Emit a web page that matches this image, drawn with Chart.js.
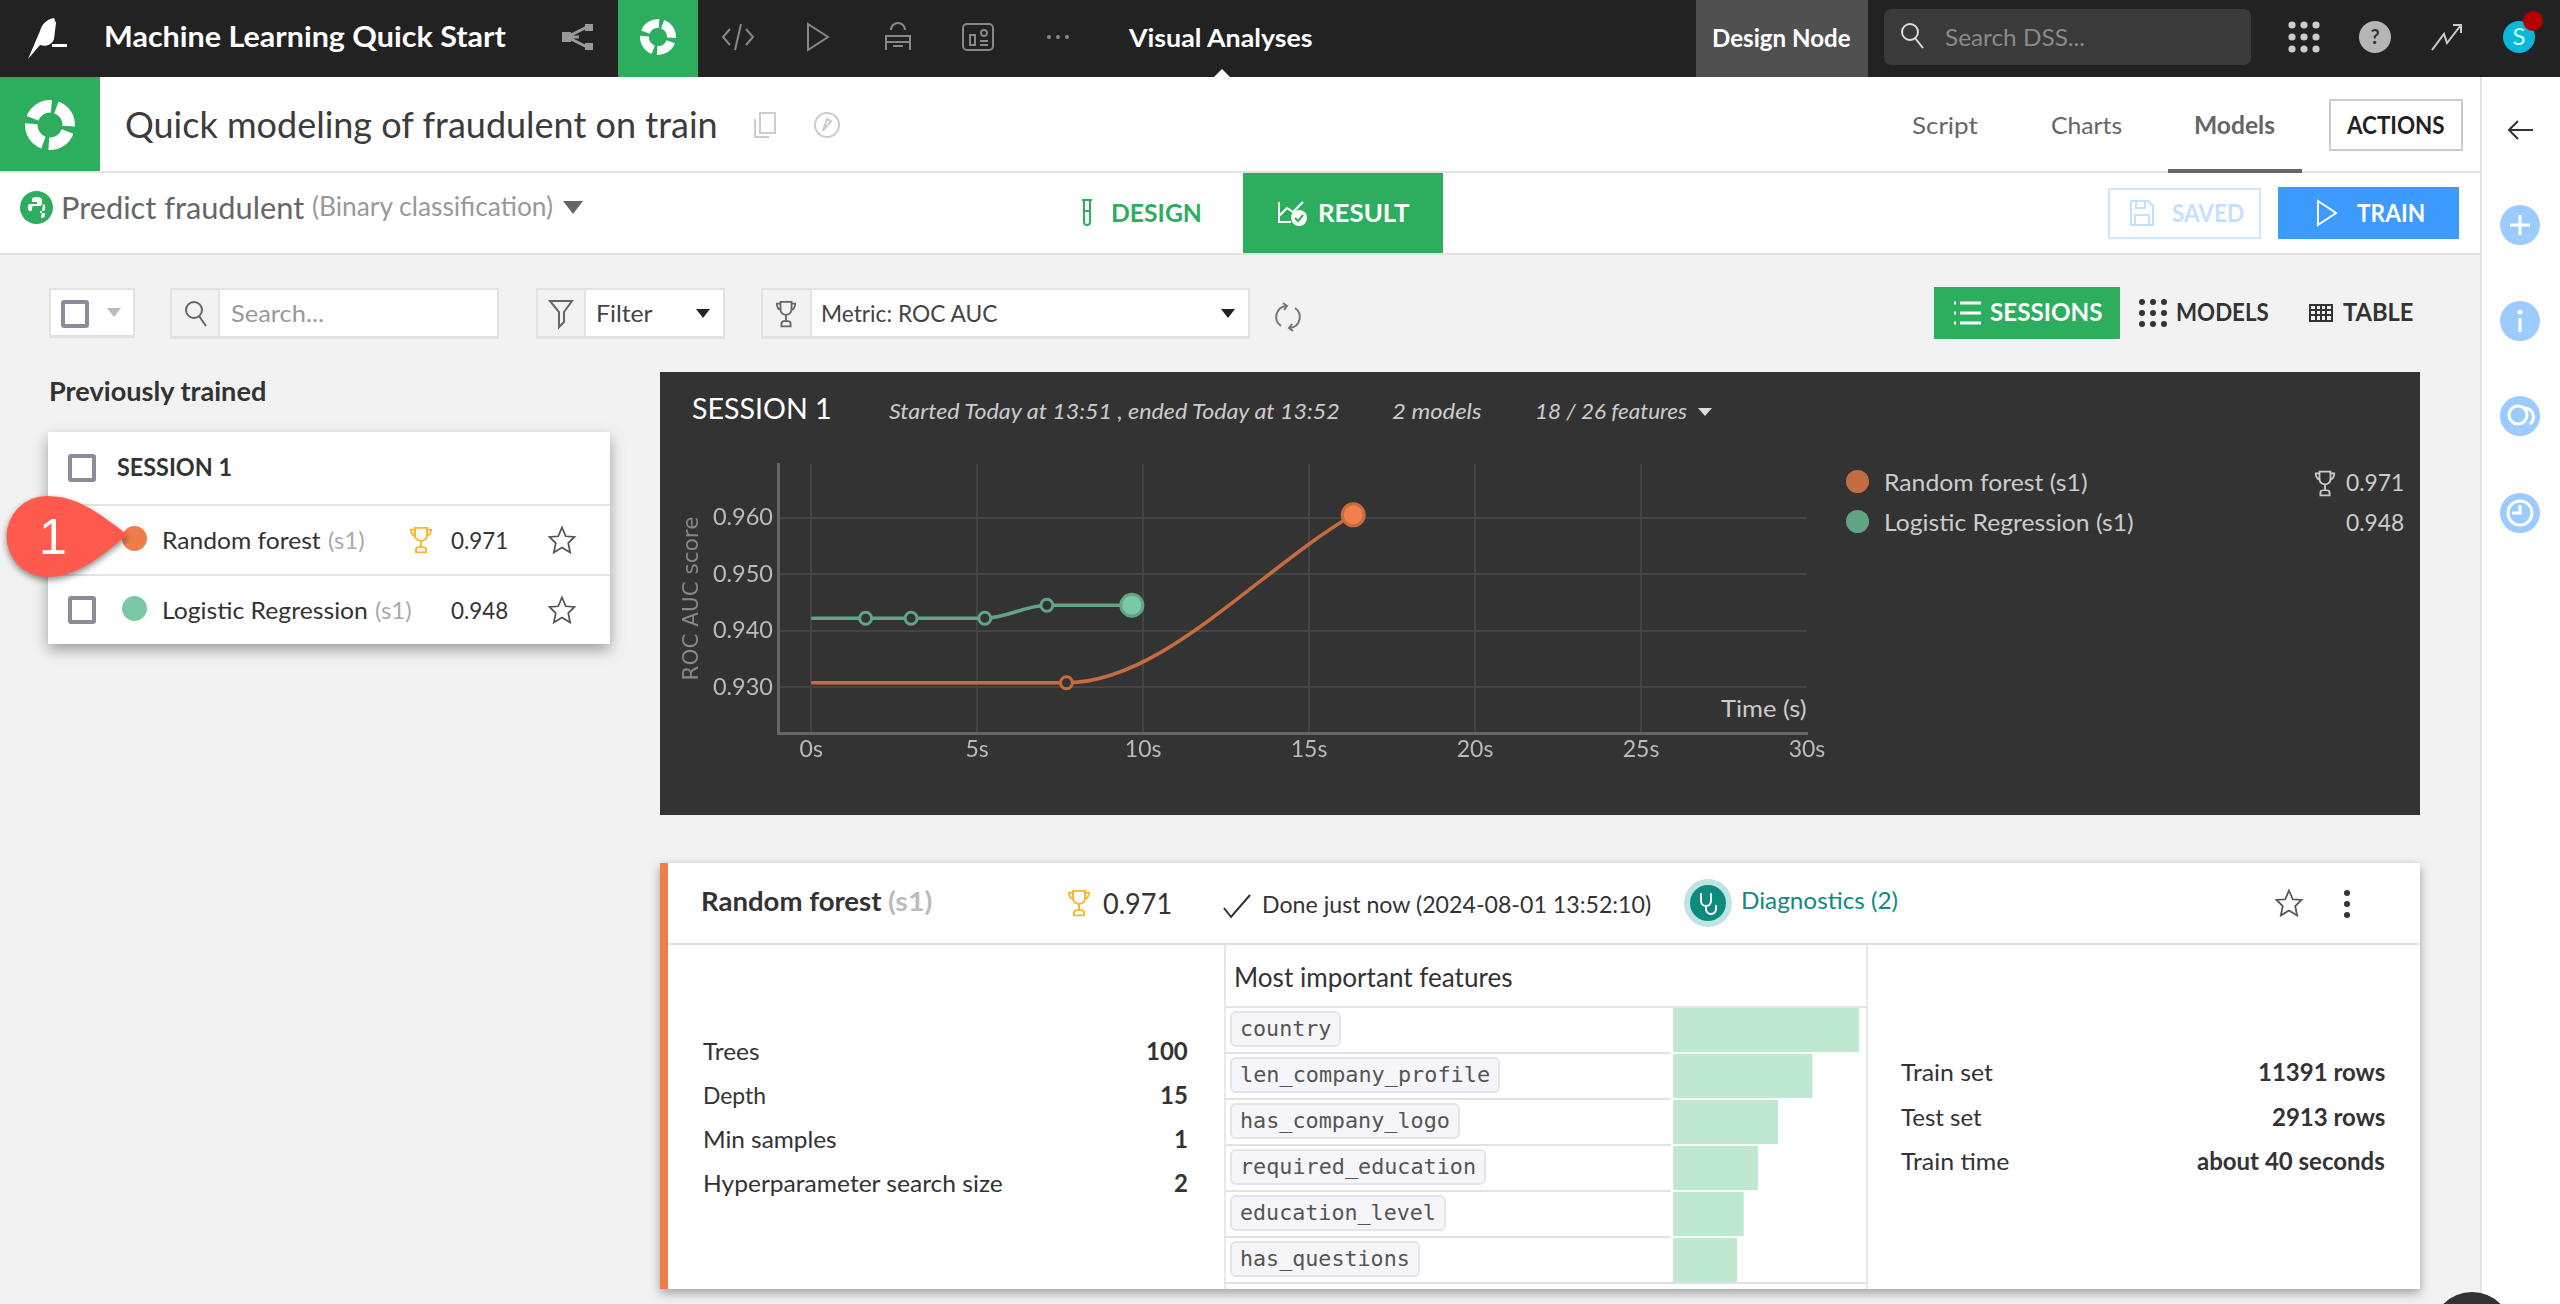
<!DOCTYPE html>
<html>
<head>
<meta charset="utf-8">
<title>Quick modeling of fraudulent on train</title>
<script src="https://cdn.jsdelivr.net/npm/chart.js@4/dist/chart.umd.min.js"></script>
<style>
  html, body { margin: 0; padding: 0; }
  body { width: 2560px; height: 1304px; overflow: hidden; position: relative; background: #f2f2f2; font-family: Lato, sans-serif; }
  .r, .t, svg.i, canvas { position: absolute; }
  .t { white-space: nowrap; transform-origin: left center; line-height: 1.2; }
  svg.i { overflow: visible; fill: none; }
</style>
</head>
<body>
<canvas id="sessionChart" width="1157" height="345" style="left:680px;top:450px"></canvas>
<canvas id="featureChart" width="186" height="276" style="left:1673px;top:1007px"></canvas>
<script>
// Session chart data
const forestTimes = [0, 7.69, 16.33];
const forestScores = [0.9308, 0.9308, 0.9605];
const logisticTimes = [0, 1.64, 3.01, 5.23, 7.1, 9.66];
const logisticScores = [0.9422, 0.9422, 0.9422, 0.9422, 0.9445, 0.9445];

// Feature importance bars (percent of the biggest one)
const featureNames = ['country', 'len_company_profile', 'has_company_logo', 'required_education', 'education_level', 'has_questions'];
const featureValues = [100, 75, 56.5, 45.7, 38, 34.4];

const GREEN = '#2dae5e';
const TROPHY = '<path d="M6 2h12v9a6 6 0 0 1-12 0z M6 4H2c0 5 2 7 5 8 M18 4h4c0 5-2 7-5 8 M12 17v7 M7 30v-3a3 3 0 0 1 3-3h4a3 3 0 0 1 3 3v3z"/>';
const STAR = '<polygon points="12,2 15,9 22,9.5 17,14.5 18.5,22 12,18 5.5,22 7,14.5 2,9.5 9,9"/>';

// Page chrome helpers: rectangle, text squeezed to a measured width, icon
function R(x0, y0, x1, y1, css) {
    const d = document.createElement('div');
    d.className = 'r';
    d.style.cssText = `left:${x0}px;top:${y0}px;width:${x1 - x0}px;height:${y1 - y0}px;${css}`;
    document.body.appendChild(d);
    return d;
}

function T(text, x0, x1, yc, size, color, weight, extra) {
    const s = document.createElement('span');
    s.className = 't';
    s.textContent = text;
    s.style.cssText = `left:${x0}px;top:${yc - 1}px;font-size:${size}px;color:${color};font-weight:${weight || 400};${extra || ''}`;
    document.body.appendChild(s);
    const k = x1 ? (x1 - x0) / s.offsetWidth : 1;
    s.style.transform = `translateY(-50%) scaleX(${k})`;
    return s;
}

function I(cx, cy, w, h, vb, inner, css) {
    const ns = 'http://www.w3.org/2000/svg';
    const g = document.createElementNS(ns, 'svg');
    g.setAttribute('class', 'i');
    g.setAttribute('viewBox', vb);
    g.setAttribute('width', w);
    g.setAttribute('height', h);
    g.setAttribute('preserveAspectRatio', 'none');
    g.style.cssText = `left:${cx - w / 2}px;top:${cy - h / 2}px;${css || ''}`;
    g.innerHTML = inner;
    document.body.appendChild(g);
}

function checkbox(x, y) {
    R(x, y, x + 28, y + 28, 'box-sizing:border-box;border:4px solid #8b8b9b;border-radius:3px;background:#fff');
}

function ring(cx, cy, size) {
    I(cx, cy, size, size, '0 0 40 40', '<circle cx="20" cy="20" r="15" stroke="#fff" stroke-width="10" stroke-dasharray="19 4.5" transform="rotate(-70 20 20)"/>');
}

// Background panels go behind the canvases
function back(el) { document.body.insertBefore(el, document.body.firstChild); }

// Top bar
R(0, 0, 2560, 77, 'background:#222');
I(48, 38, 44, 42, '0 0 44 42', '<path d="M2 42 L14 14 C16 6 22 2 28 1 L30 6 L28 22 C26 28 20 30 14 28 Z" fill="#fff"/><rect x="26" y="27" width="15" height="3" fill="#fff"/>');
T('Machine Learning Quick Start', 104, 506, 38, 28, '#fff', 700);
I(578, 37, 34, 26, '0 0 34 26', '<path d="M6 13 L26 3 M6 13 L26 23 M6 13H18" stroke="#999" stroke-width="3"/><rect x="1" y="8" width="9" height="10" fill="#999"/><rect x="24" y="0" width="8" height="7" fill="#999"/><rect x="24" y="19" width="8" height="7" fill="#999"/>');
R(618, 0, 698, 77, `background:${GREEN}`);
ring(658, 37, 36);
I(738, 37, 34, 28, '0 0 34 28', '<path d="M9 6 L2 14 L9 22 M25 6 L32 14 L25 22 M20 1 L14 27" stroke="#888" stroke-width="2"/>');
I(818, 37, 26, 30, '0 0 26 30', '<path d="M3 2 L23 15 L3 28 Z" stroke="#888" stroke-width="2"/>');
I(898, 37, 30, 30, '0 0 30 30', '<path d="M8 8 A7 7 0 0 1 22 8 M3 28 V14 H27 V28 M3 20 H27 M10 24 H20" stroke="#888" stroke-width="2"/>');
I(978, 37, 32, 28, '0 0 32 28', '<rect x="1" y="1" width="30" height="26" rx="4" stroke="#888" stroke-width="2"/><path d="M8 22 V12 H13 V22 Z M18 18 H26 M18 22 H26" stroke="#888" stroke-width="2"/><circle cx="22" cy="10" r="3" stroke="#888" stroke-width="2"/>');
I(1058, 37, 24, 6, '0 0 24 6', '<circle cx="3" cy="3" r="2" fill="#888"/><circle cx="12" cy="3" r="2" fill="#888"/><circle cx="21" cy="3" r="2" fill="#888"/>');
T('Visual Analyses', 1129, 1313, 38, 25, '#fff', 700);
I(1222, 73, 16, 8, '0 0 16 8', '<path d="M0 8 L8 0 L16 8 Z" fill="#fff"/>');
R(1696, 0, 1868, 77, 'background:#505050');
T('Design Node', 1712, 1851, 38, 25, '#fff', 700);
R(1884, 9, 2251, 65, 'background:#3a3a3a;border-radius:7px');
I(1912, 36, 26, 28, '0 0 26 28', '<circle cx="11" cy="10" r="8" stroke="#ddd" stroke-width="2"/><path d="M16 16 L24 26" stroke="#ddd" stroke-width="2"/>');
T('Search DSS...', 1945, 2085, 38, 24, '#8a8a8a');
let dots = '';
for (let a = 0; a < 3; a++) for (let b = 0; b < 3; b++) dots += `<circle cx="${4 + a * 12}" cy="${4 + b * 12}" r="3.6" fill="#ccc"/>`;
I(2304, 37, 32, 32, '0 0 32 32', dots);
I(2375, 37, 32, 32, '0 0 32 32', '<circle cx="16" cy="16" r="16" fill="#b5b5b5"/><text x="16" y="23" font-size="20" font-weight="700" text-anchor="middle" fill="#333">?</text>');
I(2447, 37, 32, 28, '0 0 32 28', '<path d="M1 27 L13 11 L16 20 L30 2 M22 2 H30 V10" stroke="#ccc" stroke-width="2"/>');
I(2519, 37, 34, 34, '0 0 34 34', '<circle cx="17" cy="17" r="16" fill="#0cb8d8"/><text x="17" y="25" font-size="24" text-anchor="middle" fill="#cff">S</text>');
I(2533, 21, 20, 20, '0 0 20 20', '<circle cx="10" cy="10" r="10" fill="#b30000"/>');

// Title row
R(0, 77, 2480, 171, 'background:#fff');
R(0, 171, 2480, 173, 'background:#e2e2e2');
R(0, 77, 100, 171, `background:${GREEN}`);
ring(50, 125, 50);
T('Quick modeling of fraudulent on train', 125, 718, 126, 36, '#3c3c3c');
I(765, 125, 24, 28, '0 0 24 28', '<path d="M2 8 V26 H16 M7 2 H22 V22 H7 Z" stroke="#ccc" stroke-width="2"/>');
I(827, 125, 28, 28, '0 0 28 28', '<circle cx="14" cy="14" r="12" stroke="#ccc" stroke-width="2"/><path d="M10 20 L14 8 L18 10 Z" stroke="#ccc" stroke-width="2"/>');
T('Script', 1912, 1978, 126, 24, '#666');
T('Charts', 2051, 2122, 126, 24, '#666');
T('Models', 2194, 2275, 126, 24, '#666', 700);
R(2168, 169, 2302, 173, 'background:#666');
R(2329, 99, 2463, 151, 'box-sizing:border-box;border:2px solid #ccc;background:#fff');
T('ACTIONS', 2347, 2445, 126, 24, '#222', 700);

// Model row
R(0, 173, 2480, 253, 'background:#fff');
R(0, 253, 2480, 255, 'background:#e2e2e2');
I(36, 207, 33, 33, '0 0 33 33', `<circle cx="16.5" cy="16.5" r="16.5" fill="${GREEN}"/><path d="M16 6 C11 6 12 9 12 11 H17 V13 H10 C7 13 7 20 10 20 H12 V17 C12 15 14 15 15 15 H20 C21 15 22 14 22 12 V9 C22 7 20 6 16 6 Z M21 27 C26 27 25 24 25 22 H20 V20 H23 C26 20 26 13 23 13" fill="#fff"/>`);
T('Predict fraudulent', 61, 304, 208, 30, '#666');
T('(Binary classification)', 312, 553, 208, 26, '#999');
I(573, 207, 20, 13, '0 0 20 13', '<path d="M0 0 H20 L10 13 Z" fill="#666"/>');
I(1087, 213, 12, 28, '0 0 12 28', `<path d="M1 1 H11 M3 1 V23 A3 3 0 0 0 9 23 V1 M3 12 H9" stroke="${GREEN}" stroke-width="2"/>`);
T('DESIGN', 1111, 1202, 213, 25, GREEN, 700);
R(1243, 173, 1443, 253, `background:${GREEN}`);
I(1292, 213, 30, 26, '0 0 30 26', '<path d="M2 2 V22 H14 M2 16 L10 8 L16 12 L26 2" stroke="#fff" stroke-width="2"/><circle cx="22" cy="18" r="8" fill="#fff"/><path d="M18 18 L21 21 L26 15" stroke="#2dae5e" stroke-width="2"/>');
T('RESULT', 1318, 1409, 213, 25, '#fff', 700);
R(2108, 188, 2261, 239, 'box-sizing:border-box;border:2px solid #cfe6ff;background:#fff');
I(2142, 213, 26, 28, '0 0 26 28', '<path d="M2 2 H19 L24 7 V26 H2 Z M7 2 V9 H16 V2 M6 26 V16 H20 V26" stroke="#c5e0ff" stroke-width="2"/>');
T('SAVED', 2172, 2244, 213, 25, '#c5e0ff', 700);
R(2278, 187, 2459, 239, 'background:#3d9bff');
I(2327, 213, 22, 28, '0 0 22 28', '<path d="M2 2 L20 14 L2 26 Z" stroke="#fff" stroke-width="2"/>');
T('TRAIN', 2357, 2425, 213, 25, '#fff', 700);

// Right side rail
R(2480, 77, 2560, 1304, 'background:#fff');
R(2480, 77, 2482, 1304, 'background:#e2e2e2');
I(2520, 130, 26, 22, '0 0 26 22', '<path d="M11 2 L2 11 L11 20 M2 11 H26" stroke="#333" stroke-width="2"/>');
[[225, '<path d="M20 10 V30 M10 20 H30" stroke="#fff" stroke-width="3"/>'],
 [321, '<circle cx="20" cy="11" r="2.5" fill="#fff"/><path d="M20 17 V31" stroke="#fff" stroke-width="3"/>'],
 [416, '<circle cx="18" cy="19" r="9" stroke="#fff" stroke-width="3"/><path d="M24 12 A9 9 0 0 1 30 28" stroke="#fff" stroke-width="3"/>'],
 [513, '<circle cx="20" cy="20" r="12" stroke="#fff" stroke-width="3"/><path d="M20 12 V20 H12" stroke="#fff" stroke-width="3"/>']
].forEach(b => I(2520, b[0], 40, 40, '0 0 40 40', '<circle cx="20" cy="20" r="20" fill="#9ccbff"/>' + b[1]));
I(2472, 1332, 80, 80, '0 0 80 80', '<circle cx="40" cy="40" r="40" fill="#333"/>');

// Toolbar
const cell = 'box-sizing:border-box;border:2px solid #e2e2e2;border-bottom-width:3px;';
R(49, 288, 135, 338, cell + 'background:#fff');
checkbox(61, 300);
I(114, 312, 14, 9, '0 0 14 9', '<path d="M0 0 H14 L7 9 Z" fill="#bbb"/>');
R(170, 288, 499, 339, cell + 'background:#fff');
R(170, 288, 220, 339, cell + 'background:#f2f2f2');
I(196, 314, 24, 28, '0 0 24 28', '<circle cx="10" cy="10" r="8" stroke="#666" stroke-width="2"/><path d="M15 16 L22 26" stroke="#666" stroke-width="2"/>');
T('Search...', 231, 324, 315, 23, '#999');
R(536, 288, 725, 339, cell + 'background:#fff');
R(536, 288, 586, 339, cell + 'background:#f2f2f2');
I(561, 314, 24, 28, '0 0 24 28', '<path d="M1 1 H23 L15 12 V22 L10 27 V12 Z" stroke="#666" stroke-width="2"/>');
T('Filter', 596, 653, 315, 23, '#444');
I(703, 313, 14, 9, '0 0 14 9', '<path d="M0 0 H14 L7 9 Z" fill="#222"/>');
R(761, 288, 1250, 339, cell + 'background:#fff');
R(761, 288, 812, 339, cell + 'background:#f2f2f2');
I(786, 314, 22, 28, '0 0 24 32', TROPHY, 'stroke:#666;stroke-width:2');
T('Metric: ROC AUC', 821, 997, 315, 23, '#444');
I(1228, 313, 14, 9, '0 0 14 9', '<path d="M0 0 H14 L7 9 Z" fill="#222"/>');
I(1288, 317, 26, 30, '0 0 26 30', '<path d="M6 24 A11 11 0 0 1 11 4 M8 1 L12 4 L9 8 M20 6 A11 11 0 0 1 15 26 M18 29 L14 26 L17 22" stroke="#777" stroke-width="2"/>');
R(1934, 287, 2120, 339, `background:${GREEN}`);
I(1967, 313, 28, 24, '0 0 28 24', '<path d="M7 2 H28 M7 12 H28 M7 22 H28 M1 2 H3 M1 12 H3 M1 22 H3" stroke="#fff" stroke-width="3"/>');
T('SESSIONS', 1990, 2102, 313, 24, '#fff', 700);
let bigDots = '';
for (let a = 0; a < 3; a++) for (let b = 0; b < 3; b++) bigDots += `<circle cx="${4 + a * 11}" cy="${4 + b * 11}" r="3" fill="#333"/>`;
I(2153, 313, 30, 30, '0 0 30 30', bigDots);
T('MODELS', 2176, 2269, 313, 24, '#333', 700);
I(2321, 313, 24, 18, '0 0 24 18', '<path d="M1 1 H23 V17 H1 Z M1 6 H23 M1 11 H23 M7 1 V17 M12 1 V17 M17 1 V17" stroke="#333" stroke-width="2"/>');
T('TABLE', 2343, 2413, 313, 24, '#333', 700);

// Left list
T('Previously trained', 49, 266, 393, 26, '#333', 700);
R(48, 432, 610, 644, 'background:#fff;box-shadow:0 6px 14px rgba(0,0,0,.35)');
R(48, 504, 610, 506, 'background:#e2e2e2');
R(48, 574, 610, 576, 'background:#e2e2e2');
checkbox(68, 454);
T('SESSION 1', 117, 232, 468, 24, '#333', 700);
I(134, 538, 25, 25, '0 0 24 24', '<circle cx="12" cy="12" r="12" fill="#ef7d4c"/>');
T('Random forest', 162, 321, 541, 24, '#333');
T('(s1)', 328, 365, 541, 24, '#aaa');
I(421, 540, 24, 28, '0 0 24 32', TROPHY, 'stroke:#f8b731;stroke-width:2');
T('0.971', 451, 508, 541, 24, '#333');
I(562, 540, 30, 30, '0 0 24 24', STAR, 'stroke:#555;stroke-width:1.4');
checkbox(68, 596);
I(134, 608, 25, 25, '0 0 24 24', '<circle cx="12" cy="12" r="12" fill="#7bc8a4"/>');
T('Logistic Regression', 162, 368, 611, 24, '#333');
T('(s1)', 375, 412, 611, 24, '#aaa');
T('0.948', 451, 508, 611, 24, '#333');
I(562, 610, 30, 30, '0 0 24 24', STAR, 'stroke:#555;stroke-width:1.4');

// Numbered callout pin
I(67, 537, 122, 82, '0 0 122 82', '<path d="M122 39 C96 58 74 81 41 81 A40.5 40.5 0 0 1 41 0 C74 0 96 20 122 39 Z" fill="#ff5a4d"/>', 'filter:drop-shadow(0 3px 3px rgba(0,0,0,.45))');
T('1', 39, null, 538, 50, '#fff', 400, 'font-family:"Liberation Sans"');

// Session panel header and legend
back(R(660, 372, 2420, 815, 'background:#333'));
T('SESSION 1', 692, 832, 409, 29, '#fff');
T('Started Today at 13:51 , ended Today at 13:52', 889, 1340, 412, 22, '#ccc', 400, 'font-style:italic');
T('2 models', 1392, 1482, 412, 22, '#ccc', 400, 'font-style:italic');
T('18 / 26 features', 1535, 1687, 412, 22, '#ccc', 400, 'font-style:italic');
I(1705, 412, 14, 8, '0 0 14 8', '<path d="M0 0 H14 L7 8 Z" fill="#ddd"/>');
I(1857, 481, 23, 23, '0 0 24 24', '<circle cx="12" cy="12" r="12" fill="#c46c42"/>');
T('Random forest (s1)', 1884, 2087, 483, 24, '#ccc');
I(1857, 521, 23, 23, '0 0 24 24', '<circle cx="12" cy="12" r="12" fill="#62a586"/>');
T('Logistic Regression (s1)', 1884, 2134, 523, 24, '#ccc');
I(2325, 483, 22, 27, '0 0 24 32', TROPHY, 'stroke:#ccc;stroke-width:2');
T('0.971', 2346, 2404, 483, 24, '#ccc');
T('0.948', 2346, 2404, 523, 24, '#ccc');
T('Time (s)', 1721, 1807, 709, 24, '#ccc');

// Detail card
back(R(660, 863, 2420, 1289, 'background:#fff;box-shadow:0 4px 10px rgba(0,0,0,.35)'));
R(660, 863, 668, 1289, 'background:#ef7d4c');
R(668, 943, 2420, 945, 'background:#e2e2e2');
R(1224, 945, 1226, 1289, 'background:#e8e8e8');
R(1866, 945, 1868, 1289, 'background:#e8e8e8');
T('Random forest', 701, 881, 903, 26, '#333', 700);
T('(s1)', 888, 932, 903, 26, '#bbb', 700);
I(1079, 903, 24, 28, '0 0 24 32', TROPHY, 'stroke:#f8b731;stroke-width:2');
T('0.971', 1103, 1172, 904, 29, '#333');
I(1237, 906, 28, 24, '0 0 28 24', '<path d="M1 14 L8 23 L27 1" stroke="#333" stroke-width="2"/>');
T('Done just now (2024-08-01 13:52:10)', 1262, 1651, 905, 24, '#333');
I(1708, 903, 48, 48, '0 0 48 48', '<circle cx="24" cy="24" r="24" fill="#bfe5e3"/><circle cx="24" cy="24" r="18" fill="#0d8a7e"/><path d="M17 14 V22 A5 5 0 0 0 27 22 V14 M22 27 V30 A5 5 0 0 0 32 30 V26" stroke="#fff" stroke-width="2"/>');
T('Diagnostics (2)', 1741, 1898, 901, 24, '#0d8a7e');
I(2289, 903, 30, 30, '0 0 24 24', STAR, 'stroke:#555;stroke-width:1.4');
I(2347, 904, 8, 28, '0 0 8 28', '<circle cx="4" cy="3" r="3" fill="#333"/><circle cx="4" cy="14" r="3" fill="#333"/><circle cx="4" cy="25" r="3" fill="#333"/>');

function paramRow(label, x1, value, y) {
    T(label, 703, x1, y, 24, '#333');
    const v = T(value, 0, null, y, 24, '#333', 700);
    v.style.left = (1188 - v.offsetWidth) + 'px';
}
paramRow('Trees', 760, '100', 1052);
paramRow('Depth', 766, '15', 1096);
paramRow('Min samples', 837, '1', 1140);
paramRow('Hyperparameter search size', 1003, '2', 1184);

T('Most important features', 1234, 1513, 979, 26, '#333');
R(1226, 1006, 1866, 1008, 'background:#e2e2e2');
R(1226, 1282, 1866, 1284, 'background:#e2e2e2');
[1053, 1099, 1145, 1191, 1237].forEach(y => R(1226, y - 1, 1671, y + 1, 'background:#e2e2e2'));
const pillEnds = [1341, 1500, 1460, 1486, 1446, 1420];
featureNames.forEach((name, i) => {
    const y = 1011 + i * 46;
    R(1230, y, pillEnds[i], y + 36, 'box-sizing:border-box;background:#f6f6fa;border:2px solid #e4e4ec;border-radius:6px');
    T(name, 1240, pillEnds[i] - 10, y + 19, 21.7, '#555', 400, 'font-family:"DejaVu Sans Mono"');
});

[['Train set', 1993, '11391 rows', 1073], ['Test set', 1982, '2913 rows', 1118], ['Train time', 2010, 'about 40 seconds', 1162]].forEach(row => {
    T(row[0], 1901, row[1], row[3], 24, '#333');
    const v = T(row[2], 1, null, row[3], 24, '#333', 700);
    v.style.transform = 'translateY(-50%)';
    v.style.left = (2385 - v.offsetWidth) + 'px';
});

// Canvases sit above the panels they belong to
document.body.appendChild(document.getElementById('sessionChart'));
document.body.appendChild(document.getElementById('featureChart'));

// Session chart
const toPoints = (xs, ys) => xs.map((x, i) => ({ x: x, y: ys[i] }));
const hollowThenBig = (n, big) => Array.from({ length: n }, (_, i) => (i === 0 ? 0 : i === n - 1 ? big : 6));

function lineSet(label, xs, ys, line, last) {
    const n = xs.length;
    return {
        label: label,
        data: toPoints(xs, ys),
        borderColor: line,
        borderWidth: 3.5,
        cubicInterpolationMode: 'monotone',
        pointRadius: hollowThenBig(n, 11),
        pointBorderWidth: 3,
        pointBorderColor: line,
        pointBackgroundColor: xs.map((_, i) => (i === n - 1 ? last : '#333'))
    };
}

new Chart(document.getElementById('sessionChart'), {
    type: 'line',
    data: {
        datasets: [
            lineSet('Random forest (s1)', forestTimes, forestScores, '#c46c42', '#f2804a'),
            lineSet('Logistic Regression (s1)', logisticTimes, logisticScores, '#62a586', '#7ac9a4')
        ]
    },
    options: {
        responsive: false,
        animation: false,
        layout: { padding: { top: 13, right: 30 } },
        plugins: { legend: { display: false }, tooltip: { enabled: false } },
        scales: {
            x: {
                type: 'linear',
                min: -1,
                max: 30,
                afterFit: scale => { scale.height = 62; scale.paddingRight = 0; scale.paddingLeft = 0; },
                border: { color: '#666', width: 3 },
                grid: { color: ctx => (ctx.tick && ctx.tick.value === 30 ? 'transparent' : '#444'), lineWidth: 2, drawTicks: false },
                ticks: {
                    stepSize: 5,
                    includeBounds: false,
                    maxRotation: 0,
                    padding: 3,
                    color: '#bbb',
                    font: { family: 'Lato', size: 23 },
                    callback: v => v + 's'
                }
            },
            y: {
                min: 0.9219,
                max: 0.9695,
                afterFit: scale => { scale.width = 98; scale.paddingTop = 0; scale.paddingBottom = 0; },
                border: { color: '#666', width: 3 },
                grid: { color: '#444', lineWidth: 2, drawTicks: false },
                title: { display: true, text: 'ROC AUC score', color: '#888', padding: 0, font: { family: 'DejaVu Sans', size: 21.5 } },
                ticks: {
                    stepSize: 0.01,
                    includeBounds: false,
                    padding: 5,
                    color: '#bbb',
                    font: { family: 'Lato', size: 23.5 },
                    callback: v => v.toFixed(3)
                }
            }
        }
    }
});

// Feature importance bars
new Chart(document.getElementById('featureChart'), {
    type: 'bar',
    data: {
        labels: featureNames,
        datasets: [{ data: featureValues, backgroundColor: '#bfe8d0', categoryPercentage: 1, barPercentage: 0.957 }]
    },
    options: {
        indexAxis: 'y',
        responsive: false,
        animation: false,
        plugins: { legend: { display: false }, tooltip: { enabled: false } },
        scales: {
            x: { display: false, min: 0, max: 100 },
            y: { display: false }
        }
    }
});
</script>
</body>
</html>
